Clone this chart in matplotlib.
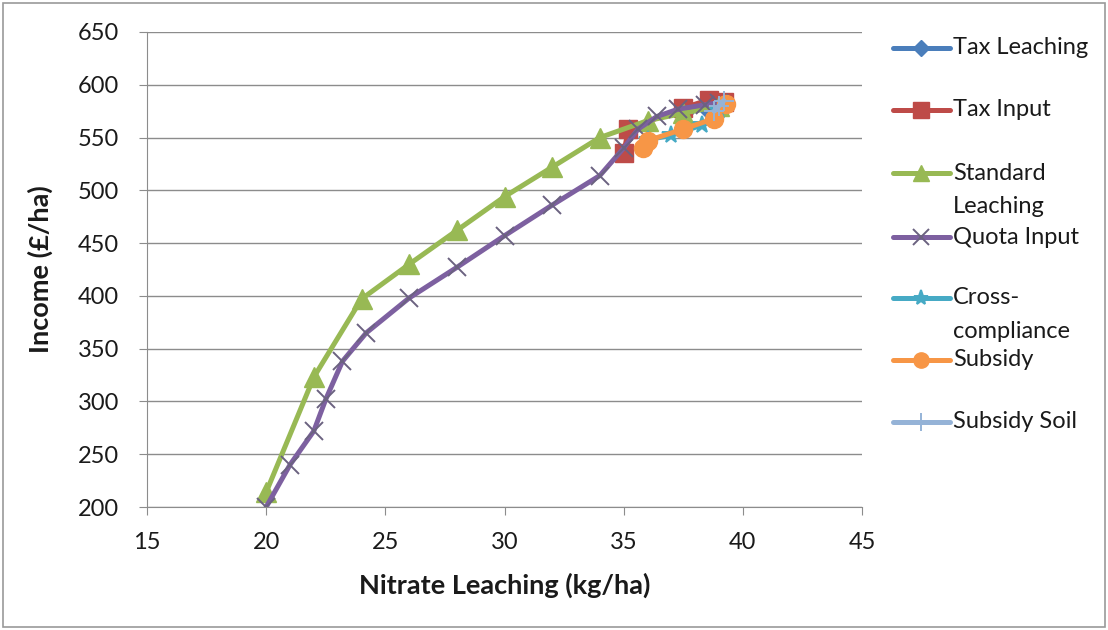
import matplotlib
matplotlib.use("Agg")
import matplotlib.pyplot as plt
from matplotlib.lines import Line2D

plt.rcParams['font.family'] = ['Lato', 'DejaVu Sans']

# data
tax_leach_x = [37.5, 38.5, 39.0]
tax_leach_y = [573, 578, 582]

tax_input_x = [35.0, 35.2, 37.5, 38.6, 39.2]
tax_input_y = [535, 558, 578, 586, 584]

std_leach_x = [20, 22, 24, 26, 28, 30, 32, 34, 36, 37.5, 39]
std_leach_y = [214, 323, 397, 430, 462, 494, 522, 550, 566, 573, 580]

quota_x = [20, 21, 22, 22.5, 23.2, 24.2, 26, 28, 30, 32, 34, 35, 35.6, 36.4, 37.3, 38.4, 39]
quota_y = [200, 240, 272, 302, 338, 365, 398, 427, 457, 486, 514, 540, 558, 570, 577, 581, 583]

cross_x = [36.0, 37.0, 38.3, 39.0]
cross_y = [548, 552, 562, 575]

subsidy_x = [35.8, 36.0, 37.5, 38.8, 39.3]
subsidy_y = [540, 547, 558, 568, 582]

soil_x = [38.8, 39.0, 39.2]
soil_y = [575, 580, 585]

names = ["Tax Leaching", "Tax Input", "Standard\nLeaching", "Quota Input",
         "Cross-\ncompliance", "Subsidy", "Subsidy Soil"]
xs_all = [tax_leach_x, tax_input_x, std_leach_x, quota_x, cross_x, subsidy_x, soil_x]
ys_all = [tax_leach_y, tax_input_y, std_leach_y, quota_y, cross_y, subsidy_y, soil_y]

colors = ['#4A7EBB', '#BE4B48', '#98B954', '#7D60A0', '#46AAC5', '#F79646', '#95B3D7']
markers = ['D', 's', '^', 'x', '*', 'o', '+']
msizes = [10, 13, 14, 13, 13, 13, 15]

W, H = 1108, 630
fig = plt.figure(figsize=(W / 100, H / 100), dpi=100)
ax = fig.add_axes([147 / W, 1 - 507 / H, (862 - 147) / W, (507 - 32) / H])


def style(i):
    col = colors[i]
    mk = markers[i]
    mec = '#6b6280' if mk == 'x' else col
    thin = mk in ('x', '+', '*')
    return dict(color=col, lw=3.6, marker=mk, markersize=msizes[i],
                markerfacecolor=col, markeredgecolor=mec,
                markeredgewidth=1.4 if thin else 1,
                solid_capstyle='round', solid_joinstyle='round')


for i in range(len(names)):
    ax.plot(xs_all[i], ys_all[i], **style(i))

ax.set_xlim(15, 45)
ax.set_ylim(200, 650)
ax.set_xticks(range(15, 46, 5))
ax.set_yticks(range(200, 651, 50))
ax.grid(axis='y', color='#8c8c8c', lw=1)
ax.set_axisbelow(True)
for s in ['top', 'right']:
    ax.spines[s].set_visible(False)
for s in ['left', 'bottom']:
    ax.spines[s].set_color('#8c8c8c')
ax.tick_params(colors='#8c8c8c', labelcolor='#1a1a1a', labelsize=17, length=6)
ax.tick_params(axis='y', pad=14)
ax.tick_params(axis='x', pad=12)

ax.set_xlabel("Nitrate Leaching (kg/ha)", fontsize=19.5, fontweight='bold', labelpad=14, color='#1a1a1a')
ax.set_ylabel("Income (£/ha)", fontsize=19.5, fontweight='bold', labelpad=18, color='#1a1a1a')

# legend drawn by hand, Excel style: fixed row pitch, extra lines spill below
row_y = [48, 110, 173, 237, 298, 360, 422]
for i, name in enumerate(names):
    yf = 1 - row_y[i] / H
    st = style(i)
    st['markersize'] = msizes[i] - 2
    fig.add_artist(Line2D([893 / W, 921 / W, 950 / W], [yf, yf, yf],
                          transform=fig.transFigure, markevery=[1], **st))
    for k, line in enumerate(name.split("\n")):
        fig.text(953 / W, 1 - (row_y[i] + 34 * k) / H, line, fontsize=17, va='center',
                 ha='left', color='#1a1a1a')

# thin frame round the whole chart
fig.patches.append(plt.Rectangle((0.003, 0.004), 0.994, 0.992, transform=fig.transFigure,
                                 fill=False, edgecolor='#9a9a9a', lw=1.2))

fig.savefig("out.png", dpi=100)
